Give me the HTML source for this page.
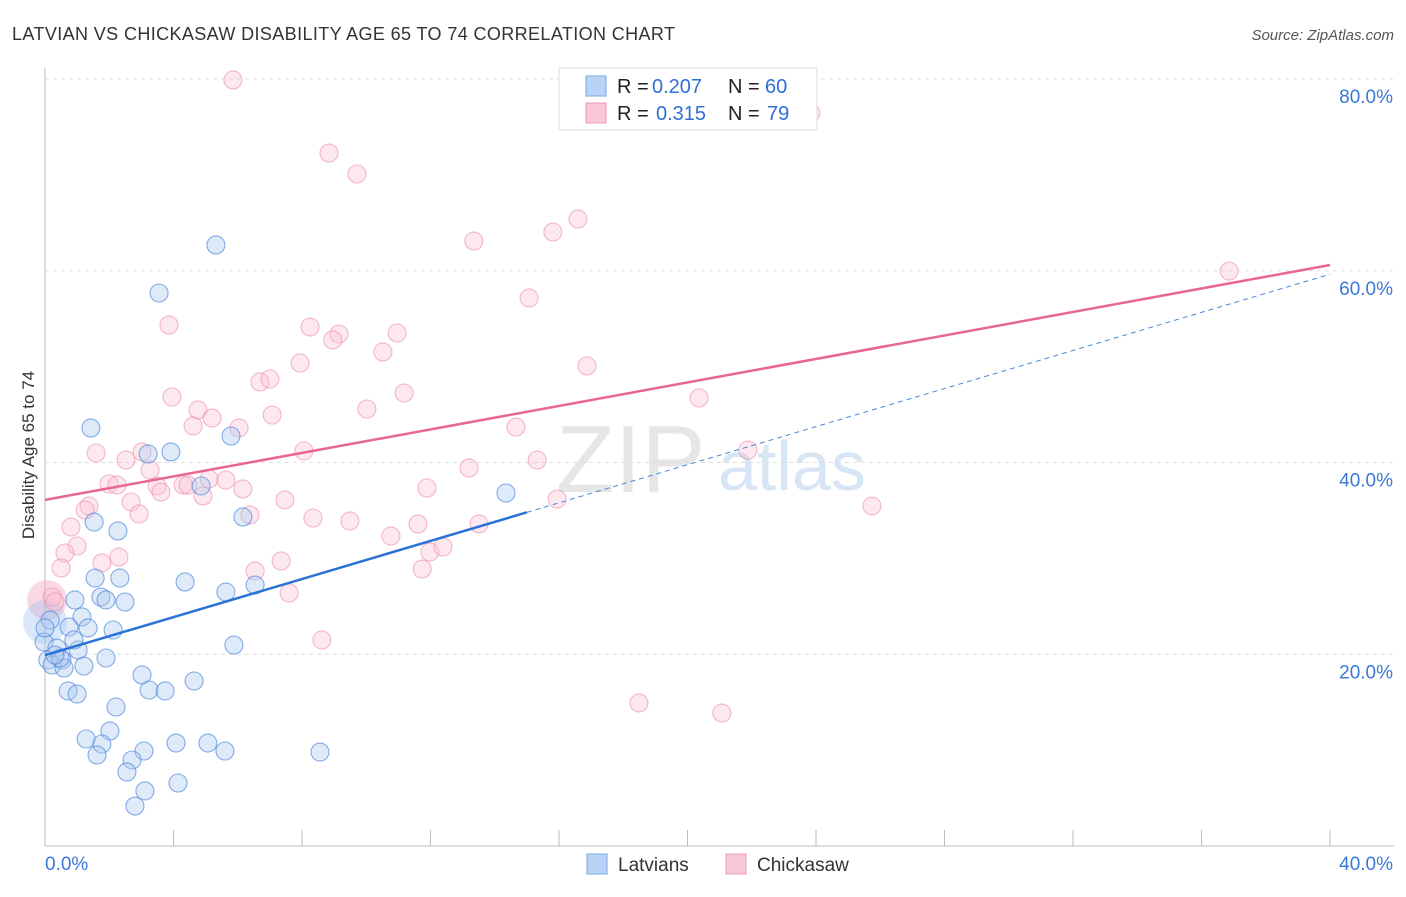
<!DOCTYPE html>
<html><head><meta charset="utf-8"><style>
body{margin:0;background:#fff;font-family:"Liberation Sans",sans-serif}
svg text{font-family:"Liberation Sans",sans-serif}
</style></head><body>
<svg id="c" width="1406" height="892">
<text x="12" y="40" font-size="18" fill="#333" textLength="663">LATVIAN VS CHICKASAW DISABILITY AGE 65 TO 74 CORRELATION CHART</text>
<text x="1394" y="40" font-size="15" fill="#555" font-style="italic" text-anchor="end">Source: ZipAtlas.com</text>
<text x="34" y="455" font-size="17" fill="#333" text-anchor="middle" transform="rotate(-90 34 455)">Disability Age 65 to 74</text>
<text x="556" y="492" font-size="96" fill="#e6e6e6" font-family="Liberation Serif">ZIP</text>
<text x="718" y="490" font-size="70" fill="#d8e5f5">atlas</text>
<g id="grid"></g><g id="pts"></g><g id="lines"></g>
<g>
<rect x="559" y="68" width="258" height="62" fill="#fff" stroke="#ddd"/>
<rect x="586" y="76" width="20" height="20" fill="#b8d3f5" stroke="#7aa7e4"/>
<rect x="586" y="103" width="20" height="20" fill="#f9c8d6" stroke="#ec9ab3"/>
<text x="617" y="93" font-size="20" fill="#222">R =</text>
<text x="652" y="93" font-size="20" fill="#2f6fd6">0.207</text>
<text x="728" y="93" font-size="20" fill="#222">N =</text>
<text x="765" y="93" font-size="20" fill="#2f6fd6">60</text>
<text x="617" y="120" font-size="20" fill="#222">R =</text>
<text x="656" y="120" font-size="20" fill="#2f6fd6">0.315</text>
<text x="728" y="120" font-size="20" fill="#222">N =</text>
<text x="767" y="120" font-size="20" fill="#2f6fd6">79</text>
</g>
<g>
<rect x="587" y="854" width="20" height="20" fill="#b8d3f5" stroke="#7aa7e4"/>
<text x="618" y="871" font-size="19" fill="#333">Latvians</text>
<rect x="726" y="854" width="20" height="20" fill="#f9c8d6" stroke="#ec9ab3"/>
<text x="757" y="871" font-size="19" fill="#333">Chickasaw</text>
</g>
</svg>
<script>
const xTicks=[0,40];
const yTicks=[20,40,60,80];
const bluePx=[[216,245],[159,293],[91,428],[231,436],[171,452],[148,454],[201,486],[243,517],[506,493],[94,522],[118,531],[95,578],[120,578],[185,582],[101,597],[106,600],[125,602],[226,592],[255,585],[75,600],[50,620],[82,617],[69,627],[88,628],[113,630],[44,642],[57,648],[78,650],[48,660],[62,660],[52,665],[64,668],[84,666],[106,658],[234,645],[142,675],[149,690],[165,691],[194,681],[68,691],[77,694],[116,707],[110,731],[86,739],[102,744],[97,755],[176,743],[208,743],[225,751],[320,752],[144,751],[132,760],[127,772],[178,783],[145,791],[135,806],[60,658],[45,628],[55,655],[74,640]];
const pinkPx=[[233,80],[329,153],[357,174],[578,219],[553,232],[474,241],[1229,271],[529,298],[169,325],[310,327],[339,334],[333,340],[397,333],[383,352],[300,363],[587,366],[260,382],[270,379],[172,397],[404,393],[198,410],[367,409],[699,398],[272,415],[212,418],[193,426],[239,428],[516,427],[748,450],[96,453],[304,451],[142,452],[126,460],[150,470],[537,460],[469,468],[109,484],[117,485],[209,479],[226,480],[183,485],[188,485],[157,486],[161,492],[243,489],[203,496],[427,488],[285,500],[131,502],[89,506],[85,510],[139,514],[557,499],[250,515],[313,518],[350,521],[418,524],[872,506],[479,524],[71,527],[391,536],[77,546],[65,553],[119,557],[102,563],[281,561],[61,568],[255,571],[422,569],[430,552],[443,547],[289,593],[52,597],[55,602],[322,640],[639,703],[722,713],[728,113],[811,113]];
const blueX=bluePx.map(p=>+((p[0]-45)*40/1285).toFixed(2));
const blueY=bluePx.map(p=>+((846-p[1])*80/767).toFixed(2));
const pinkX=pinkPx.map(p=>+((p[0]-45)*40/1285).toFixed(2));
const pinkY=pinkPx.map(p=>+((846-p[1])*80/767).toFixed(2));
const blueFit=[19.9,34.8]; // y at x=0, y at x=15
const pinkFit=[36.1,60.6]; // y at x=0, y at x=40
const X0=45,X1=1330,Y0=846,Y80=79;
const sx=v=>X0+(X1-X0)*v/40, sy=v=>Y0-(Y0-Y80)*v/80;
const NS="http://www.w3.org/2000/svg";
function mk(t,a,p){const e=document.createElementNS(NS,t);for(const k in a)e.setAttribute(k,a[k]);p.appendChild(e);return e;}
const g=document.getElementById('grid');
mk('line',{x1:45,y1:68,x2:45,y2:846,stroke:'#bbb'},g);
mk('line',{x1:45,y1:846,x2:1394,y2:846,stroke:'#bbb'},g);
for(let i=0;i<=10;i++){const x=45+i*128.5;mk('line',{x1:x,y1:846,x2:x,y2:830,stroke:'#bbb'},g);}
yTicks.forEach(v=>{
 const l=mk('line',{x1:45,y1:sy(v),x2:1394,y2:sy(v),stroke:'#ddd','stroke-dasharray':'4,4'},g);
 
 
 const t=mk('text',{x:1393,y:sy(v)+24,'font-size':19,fill:'#3a78d8','text-anchor':'end'},g);t.textContent=v.toFixed(1)+'%';
 
 
});
xTicks.forEach((v,i)=>{
 const t=mk('text',{x:i?1393:45,y:870,'font-size':19,fill:'#3a78d8','text-anchor':i?'end':'start'},g);t.textContent=v.toFixed(1)+'%';
 
 
});
const P=document.getElementById('pts');
let c=mk('circle',{cx:47,cy:600,r:20,fill:'rgba(244,160,186,0.4)',stroke:'none'},P);


c=mk('circle',{cx:45,cy:622,r:22,fill:'rgba(150,190,240,0.35)',stroke:'none'},P);


pinkX.forEach((x,i)=>{const e=mk('circle',{cx:sx(x),cy:sy(pinkY[i]),r:9,fill:'rgba(248,190,208,0.35)',stroke:'rgba(236,140,170,0.6)','stroke-width':1.1},P);
 
 });
blueX.forEach((x,i)=>{const e=mk('circle',{cx:sx(x),cy:sy(blueY[i]),r:9,fill:'rgba(170,200,240,0.38)',stroke:'rgba(70,130,220,0.65)','stroke-width':1.1},P);
 
 });
const L=document.getElementById('lines');
const bAt=x=>blueFit[0]+(blueFit[1]-blueFit[0])*x/15;
let e=mk('line',{x1:sx(15),y1:sy(bAt(15)),x2:sx(40),y2:sy(bAt(40)),stroke:'#4a86d8','stroke-width':1,'stroke-dasharray':'5,4'},L);


e=mk('line',{x1:sx(0),y1:sy(bAt(0)),x2:sx(15),y2:sy(bAt(15)),stroke:'#2a72d6','stroke-width':2.5},L);


e=mk('line',{x1:sx(0),y1:sy(pinkFit[0]),x2:sx(40),y2:sy(pinkFit[1]),stroke:'#e8668f','stroke-width':2.5},L);


</script>
</body></html>
